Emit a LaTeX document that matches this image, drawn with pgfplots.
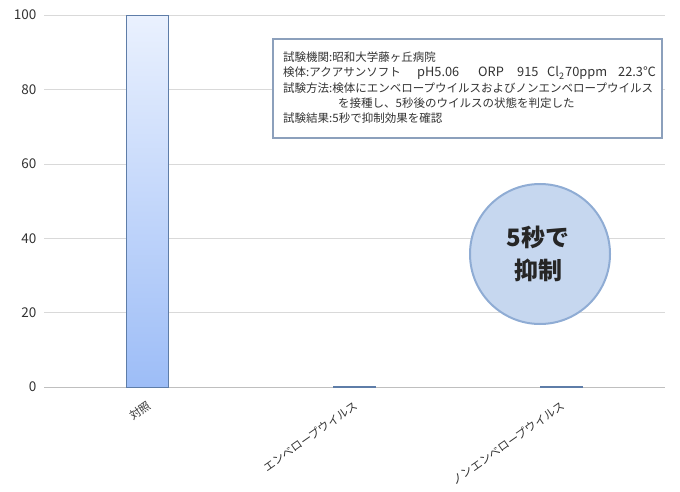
\documentclass[border=0pt]{standalone}
\usepackage{pgfplots}
\pgfplotsset{compat=1.18}
\usepackage{fontspec}
\setmainfont{Noto Sans CJK JP}
\definecolor{gridc}{HTML}{D9D9D9}
\definecolor{axc}{HTML}{BFBFBF}
\definecolor{txt}{HTML}{333333}
\definecolor{bartop}{HTML}{EAF1FE}
\definecolor{barbot}{HTML}{9DBDF7}
\definecolor{barline}{HTML}{5E7DA8}
\definecolor{boxline}{HTML}{8CA0BC}
\definecolor{circfill}{HTML}{C6D7EF}
\definecolor{circline}{HTML}{8FACD4}
\newcommand{\lat}[1]{{\fontsize{12.8}{15.3}\selectfont #1}}
\begin{document}
\begin{tikzpicture}
\useasboundingbox (0,0) rectangle (680pt,491pt);
\begin{axis}[
  at={(44pt,104pt)}, anchor=south west,
  width=621pt, height=372pt, scale only axis,
  xmin=-0.5, xmax=2.5, ymin=0, ymax=100,
  axis x line*=bottom, axis y line*=left,
  y axis line style={draw=none},
  x axis line style={draw=axc, line width=0.8pt},
  ytick={0,20,40,60,80,100},
  ymajorgrids, grid style={gridc, line width=0.6pt},
  major tick length=0pt,
  xtick={0,1,2},
  xticklabels={対照, エンベロープウイルス, ノンエンベロープウイルス},
  x tick label style={rotate=35, anchor=north east, font=\fontsize{11.3}{13}\selectfont, text=txt, inner sep=1pt, yshift=-9pt, xshift=-7pt},
  y tick label style={font=\fontsize{13.5}{15}\selectfont, text=txt, xshift=-4pt},
  /pgf/number format/assume math mode=true,
  clip=false,
]
\addplot[ybar, bar width=42pt, draw=barline, line width=0.7pt, top color=bartop, bottom color=barbot]
  coordinates {(0,100) (1,0.2) (2,0.2)};
\end{axis}
% info box
\draw[boxline, line width=2.2pt, fill=white] (273pt,353pt) rectangle (662pt,452pt);
\node[anchor=base west, inner sep=0pt, text=txt, align=left,
      font=\fontsize{11.5}{15.3}\selectfont] at (283pt,368.1pt)
{試験機関:昭和大学藤ヶ丘病院\\
\makebox[134pt][l]{検体:アクアサンソフト}\makebox[61pt][l]{\lat{pH5.06}}\makebox[39pt][l]{\lat{ORP}}\makebox[30pt][l]{\lat{915}}\makebox[18pt][l]{\lat{Cl\textsubscript{2}}}\makebox[53pt][l]{\lat{70ppm}}\lat{22.3℃}\\
試験方法:検体にエンベロープウイルスおよびノンエンベロープウイルス\\
\hspace*{55pt}を接種し、5秒後のウイルスの状態を判定した\\
試験結果:5秒で抑制効果を確認};
% circle
\draw[circline, line width=2pt, fill=circfill] (540pt,237pt) circle (70pt);
\node[text=black!85, font=\fontsize{24}{33}\selectfont\bfseries, align=center] at (538pt,237pt) {5秒で\\抑制};
\end{tikzpicture}
\end{document}
